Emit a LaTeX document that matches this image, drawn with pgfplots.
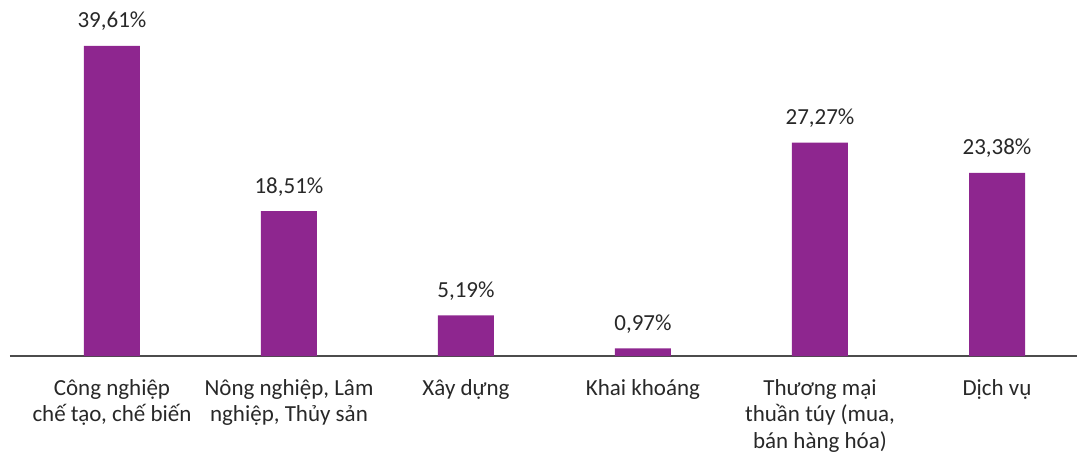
\documentclass[border=0pt]{standalone}
\usepackage{fontspec}
\setmainfont{Carlito}
\usepackage{pgfplots}
\pgfplotsset{compat=1.18}
\definecolor{barpurple}{RGB}{142,38,143}
\definecolor{txt}{RGB}{40,40,40}
\begin{document}
\begin{tikzpicture}
\useasboundingbox (-5pt,-50.5pt) rectangle (533.5pt,178pt);
\begin{axis}[
  at={(0,0)}, anchor=south west,
  scale only axis, width=533.5pt, height=178pt,
  xmin=-0.576, xmax=5.452, ymin=0, ymax=45.47,
  axis x line=bottom, axis y line=none,
  x axis line style={-, draw=black!70, line width=0.7pt},
  xtick=data,
  xticklabels={{Công nghiệp\\chế tạo, chế biến},{Nông nghiệp, Lâm\\nghiệp, Thủy sản},{Xây dựng},{Khai khoáng},{Thương mại\\thuần túy (mua,\\bán hàng hóa)},{Dịch vụ}},
  x tick label style={align=center, font=\fontsize{11.5}{13.3}\selectfont, text=txt, yshift=-8pt},
  major tick length=0pt,
  ytick=\empty,
  /pgf/number format/assume math mode=true,
  nodes near coords={\pgfmathprintnumber[fixed,fixed zerofill,precision=2,use comma,assume math mode=true]{\pgfplotspointmeta}\%},
  every node near coord/.append style={font=\fontsize{11.5}{13}\selectfont, text=txt, yshift=4pt},
  clip=false,
]
\addplot[ybar, bar width=28pt, fill=barpurple, draw=none] coordinates {
(0,39.61) (1,18.51) (2,5.19) (3,0.97) (4,27.27) (5,23.38)};
\end{axis}
\end{tikzpicture}
\end{document}
